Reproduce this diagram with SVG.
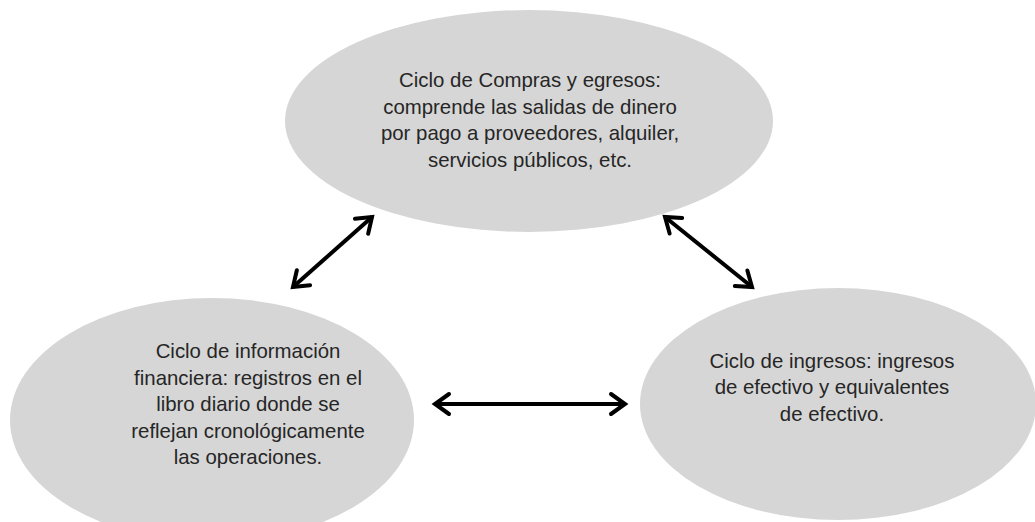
<svg xmlns="http://www.w3.org/2000/svg" width="1035" height="522" viewBox="0 0 1035 522">
<style>
.node ellipse{fill:#d6d6d6;stroke:none}
.node text{font-family:"Liberation Sans",Arial,sans-serif;font-size:20.4px;fill:#262626;text-anchor:middle}
.conn line{stroke:#000;stroke-width:4;fill:none;marker-start:url(#arr);marker-end:url(#arr)}
</style>
<defs>
<marker id="arr" markerUnits="userSpaceOnUse" viewBox="-20 -12 24 24" markerWidth="24" markerHeight="24" refX="0" refY="0" orient="auto-start-reverse" overflow="visible">
<path d="M -14 -10 L 0 0 L -14 10" fill="none" stroke="#000" stroke-width="4" stroke-linecap="round" stroke-linejoin="miter"/>
</marker>
</defs>
<rect width="1035" height="522" fill="#fff"/>
<g id="node-compras" class="node">
<ellipse cx="529" cy="121" rx="244" ry="111"/>
<text x="530" y="87">Ciclo de Compras y egresos:</text>
<text x="530" y="113.5">comprende las salidas de dinero</text>
<text x="530" y="140">por pago a proveedores, alquiler,</text>
<text x="530" y="166.5">servicios públicos, etc.</text>
</g>
<g id="node-informacion" class="node">
<ellipse cx="212" cy="420" rx="202" ry="122"/>
<text x="248" y="358">Ciclo de información</text>
<text x="248" y="384.5">financiera: registros en el</text>
<text x="248" y="411">libro diario donde se</text>
<text x="248" y="437.5">reflejan cronológicamente</text>
<text x="248" y="464">las operaciones.</text>
</g>
<g id="node-ingresos" class="node">
<ellipse cx="838" cy="404" rx="198" ry="116"/>
<text x="832" y="367.5">Ciclo de ingresos: ingresos</text>
<text x="832" y="394">de efectivo y equivalentes</text>
<text x="832" y="420.5">de efectivo.</text>
</g>
<g id="connectors" class="conn">
<line x1="293" y1="287" x2="372" y2="217"/>
<line x1="665" y1="217" x2="752" y2="287"/>
<line x1="435" y1="404" x2="625" y2="404"/>
</g>
</svg>
